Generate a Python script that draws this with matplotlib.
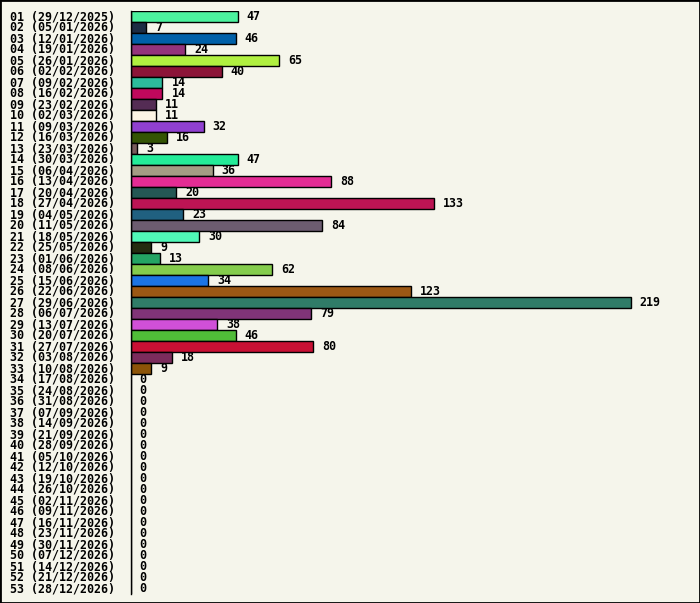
import matplotlib
matplotlib.use('Agg')
import matplotlib.pyplot as plt

weeks = ['29/12/2025', '05/01/2026', '12/01/2026', '19/01/2026', '26/01/2026',
         '02/02/2026', '09/02/2026', '16/02/2026', '23/02/2026', '02/03/2026',
         '09/03/2026', '16/03/2026', '23/03/2026', '30/03/2026', '06/04/2026',
         '13/04/2026', '20/04/2026', '27/04/2026', '04/05/2026', '11/05/2026',
         '18/05/2026', '25/05/2026', '01/06/2026', '08/06/2026', '15/06/2026',
         '22/06/2026', '29/06/2026', '06/07/2026', '13/07/2026', '20/07/2026',
         '27/07/2026', '03/08/2026', '10/08/2026', '17/08/2026', '24/08/2026',
         '31/08/2026', '07/09/2026', '14/09/2026', '21/09/2026', '28/09/2026',
         '05/10/2026', '12/10/2026', '19/10/2026', '26/10/2026', '02/11/2026',
         '09/11/2026', '16/11/2026', '23/11/2026', '30/11/2026', '07/12/2026',
         '14/12/2026', '21/12/2026', '28/12/2026']
counts = [47, 7, 46, 24, 65, 40, 14, 14, 11, 11, 32, 16, 3, 47, 36, 88, 20,
          133, 23, 84, 30, 9, 13, 62, 34, 123, 219, 79, 38, 46, 80, 18, 9] + [0] * 20
colors = ['#4cf29e', '#1c2c44', '#0060a8', '#94347c', '#b0f040', '#8c1438',
          '#2cbc9c', '#c0085c', '#542c54', '#fcf4e4', '#9040d0', '#345404',
          '#785c5c', '#24ec98', '#a49c84', '#e42c94', '#245854', '#bc1454',
          '#206080', '#6c5c70', '#50f8b8', '#242c10', '#24a464', '#84cc4c',
          '#1c74e4', '#9c5814', '#307c68', '#803478', '#d050d8', '#50bc38',
          '#c81034', '#7c2c5c', '#8c5408'] + ['#808080'] * 20

labels = ['{:02d} ({})'.format(i + 1, w) for i, w in enumerate(weeks)]
bg = '#f5f5eb'
font = dict(family='DejaVu Sans Mono', fontweight='bold', fontsize=8.4)

fig = plt.figure(figsize=(7, 6.03), dpi=100, facecolor=bg)
fig.patches.append(plt.Rectangle((0, 0), 1, 1, transform=fig.transFigure,
                                 fill=False, edgecolor='black', linewidth=2))
W, H = 700, 603
ax = fig.add_axes([130.5 / W, (H - 594) / H, 560 / W, 583 / H])
ax.set_facecolor(bg)

y = list(range(len(counts)))
ax.barh(y, counts, height=0.97, color=colors, edgecolor='black', linewidth=1)
for i, v in enumerate(counts):
    ax.annotate(str(v), (v, i), xytext=(6.5, 0), textcoords='offset points',
                va='center', ha='left', **font)
    # week label on the left
    ax.text(-120.5 / 560, i, labels[i], transform=ax.get_yaxis_transform(),
            va='center', ha='left', **font)

ax.set_xlim(0, 560 / (500 / 219))
ax.set_ylim(len(counts) - 0.5, -0.5)
ax.set_yticks([])
ax.set_xticks([])
for s in ['top', 'right', 'bottom']:
    ax.spines[s].set_visible(False)
ax.spines['left'].set_linewidth(1)

fig.savefig('out.png', dpi=100, facecolor=bg)
